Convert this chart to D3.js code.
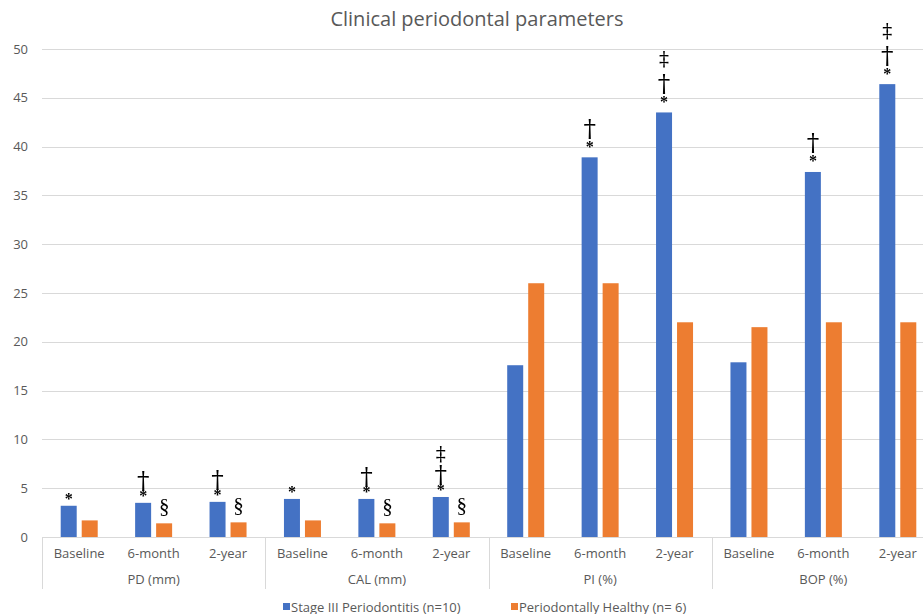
<!DOCTYPE html>
<html>
<head>
<meta charset="utf-8">
<script src="https://cdn.jsdelivr.net/npm/d3@7"></script>
<style>
  body { margin: 0; background: #ffffff; }
  svg { display: block; }
</style>
</head>
<body>
<svg id="chart" width="923" height="614"></svg>
<script>
// ---- data ----
const groups = ["PD (mm)", "CAL (mm)", "PI (%)", "BOP (%)"];
const timepoints = ["Baseline", "6-month", "2-year"];
const seriesNames = ["Stage III Periodontitis (n=10)", "Periodontally Healthy (n= 6)"];
const periodontitis = [3.2, 3.5, 3.6, 3.9, 3.9, 4.1, 17.6, 38.9, 43.5, 17.9, 37.4, 46.4];
const healthy = [1.7, 1.4, 1.5, 1.7, 1.4, 1.5, 26.0, 26.0, 22.0, 21.5, 22.0, 22.0];
// significance symbols, listed from the bar upwards
const periodontitisMarks = [["*"], ["*", "†"], ["*", "†"], ["*"], ["*", "†"], ["*", "†", "‡"],
                            [], ["*", "†"], ["*", "†", "‡"], [], ["*", "†"], ["*", "†", "‡"]];
const healthyMarks = ["", "§", "§", "", "§", "§", "", "", "", "", "", ""];
const yTicks = [0, 5, 10, 15, 20, 25, 30, 35, 40, 45, 50];

// ---- style ----
const colors = ["#4472C4", "#ED7D31"];
const textColor = "#595959";
const gridColor = "#d9d9d9";
const uiFont = "'Open Sans', sans-serif";
const serifFont = "'Liberation Serif', serif";
const daggerFont = "'DejaVu Serif', serif";
const symStyle = {
  "*": { family: serifFont, size: 16, weight: "bold" },
  "†": { family: daggerFont, size: 25, weight: "normal" },
  "‡": { family: daggerFont, size: 20, weight: "normal" },
  "§": { family: serifFont, size: 21, weight: "normal" }
};

const svg = d3.select("#chart");
const categories = [];
groups.forEach((g, gi) => timepoints.forEach((t, ti) => categories.push({ key: gi + "-" + ti, group: g, gi, time: t })));

const x = d3.scaleBand().domain(categories.map(c => c.key)).range([42, 935]).padding(0);
const xs = d3.scaleBand().domain([0, 1]).range([-18.5, 18.5]).paddingInner(5 / 21).paddingOuter(0);
const y = d3.scaleLinear().domain([0, 50]).range([537, 49]);

// title
svg.append("text")
  .attr("x", 477).attr("y", 26)
  .attr("text-anchor", "middle")
  .attr("font-family", uiFont).attr("font-size", 20)
  .attr("fill", textColor)
  .text("Clinical periodontal parameters");

// gridlines
svg.append("g").selectAll("line").data(yTicks).join("line")
  .attr("x1", 42).attr("x2", 935)
  .attr("y1", d => Math.round(y(d)) + 0.5).attr("y2", d => Math.round(y(d)) + 0.5)
  .attr("stroke", gridColor).attr("stroke-width", 1);

// y axis labels
const yAxis = d3.axisLeft(y).tickValues(yTicks).tickSize(0).tickPadding(0);
const yg = svg.append("g").attr("transform", "translate(28,0)").call(yAxis);
yg.select(".domain").remove();
yg.selectAll("text")
  .attr("font-family", uiFont).attr("font-size", 13)
  .attr("fill", textColor);

// bars
const seriesValues = [periodontitis, healthy];
seriesValues.forEach((vals, si) => {
  svg.append("g").selectAll("rect").data(categories).join("rect")
    .attr("x", c => x(c.key) + x.bandwidth() / 2 + xs(si))
    .attr("width", xs.bandwidth())
    .attr("y", (c, i) => y(vals[i]))
    .attr("height", (c, i) => y(0) - y(vals[i]))
    .attr("fill", colors[si]);
});

// significance symbols
const symLayer = svg.append("g").style("filter", "grayscale(1)");
// offset from baseline to the visual centre of each glyph
const glyphMid = {};
Object.keys(symStyle).forEach(s => {
  const st = symStyle[s];
  const t = symLayer.append("text")
    .attr("font-family", st.family).attr("font-size", st.size).attr("font-weight", st.weight)
    .attr("y", 0).text(s);
  const b = t.node().getBBox();
  glyphMid[s] = b.y + b.height / 2;
  t.remove();
});
function addGlyph(textSel, s, cx, cy) {
  const st = symStyle[s];
  textSel.append("tspan")
    .attr("x", cx).attr("y", cy - glyphMid[s])
    .attr("font-family", st.family).attr("font-size", st.size).attr("font-weight", st.weight)
    .text(s);
}
// gaps above the bar: tighter for the mm parameters, looser for the % parameters
const symGapMm = { "*": 7, "†": 22, "‡": 43 };
const symGapPct = { "*": 11, "†": 29, "‡": 53 };
categories.forEach((c, i) => {
  const gaps = c.gi < 2 ? symGapMm : symGapPct;
  const cx = x(c.key) + x.bandwidth() / 2 + xs(0) + xs.bandwidth() / 2;
  if (periodontitisMarks[i].length) {
    const stack = symLayer.append("text").attr("text-anchor", "middle").attr("fill", "#000");
    periodontitisMarks[i].forEach(s => addGlyph(stack, s, cx, y(periodontitis[i]) - gaps[s]));
  }
  if (healthyMarks[i]) {
    const ox = x(c.key) + x.bandwidth() / 2 + xs(1) + xs.bandwidth() / 2;
    const t = symLayer.append("text").attr("text-anchor", "middle").attr("fill", "#000");
    addGlyph(t, healthyMarks[i], ox, y(healthy[i]) - 17);
  }
});

// baseline
svg.append("line")
  .attr("x1", 42).attr("x2", 935)
  .attr("y1", Math.round(y(0)) + 0.5).attr("y2", Math.round(y(0)) + 0.5)
  .attr("stroke", gridColor);

// multi-level category axis
const catAxis = svg.append("g");
catAxis.selectAll("text.cat").data(categories).join("text")
  .attr("class", "cat")
  .attr("x", c => x(c.key) + x.bandwidth() / 2)
  .attr("y", 558)
  .attr("text-anchor", "middle")
  .attr("font-family", uiFont).attr("font-size", 13)
  .attr("fill", textColor)
  .text(c => c.time);

const groupX = d3.scaleBand().domain(groups).range([42, 935]);
catAxis.selectAll("text.grp").data(groups).join("text")
  .attr("class", "grp")
  .attr("x", g => groupX(g) + groupX.bandwidth() / 2)
  .attr("y", 584)
  .attr("text-anchor", "middle")
  .attr("font-family", uiFont).attr("font-size", 13)
  .attr("fill", textColor)
  .text(g => g);

catAxis.selectAll("line.sep").data(d3.range(groups.length + 1)).join("line")
  .attr("class", "sep")
  .attr("x1", i => Math.round(42 + i * groupX.bandwidth()) + 0.5)
  .attr("x2", i => Math.round(42 + i * groupX.bandwidth()) + 0.5)
  .attr("y1", 537).attr("y2", 589)
  .attr("stroke", gridColor);

// legend
const legendX = [283, 511];
const legend = svg.append("g").selectAll("g").data(seriesNames).join("g")
  .attr("transform", (d, i) => `translate(${legendX[i]},603)`);
legend.append("rect").attr("width", 7).attr("height", 7).attr("fill", (d, i) => colors[i]);
legend.append("text")
  .attr("x", 8).attr("y", 8.5)
  .attr("font-family", uiFont).attr("font-size", 13)
  .attr("fill", textColor)
  .text(d => d);
</script>
</body>
</html>
